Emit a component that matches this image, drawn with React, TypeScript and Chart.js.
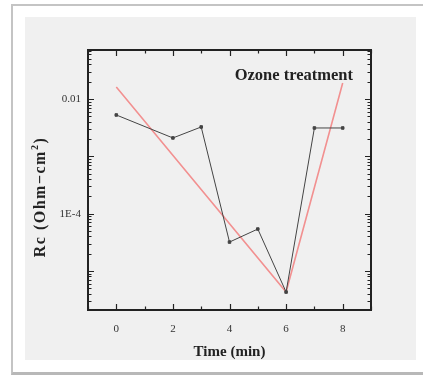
import React, { useEffect, useRef } from "react";
import { Chart, registerables } from "chart.js";
Chart.register(...registerables);

const timeMeasured = [0, 2, 3, 4, 5, 6, 7, 8];
const rcMeasured = [5.26e-3, 2.09e-3, 3.25e-3, 3.19e-5, 5.38e-5, 4.28e-6, 3.12e-3, 3.12e-3];
const timeFit = [0, 6, 8];
const rcFit = [1.62e-2, 4.28e-6, 1.9e-2];
const xTickValues = [0, 2, 4, 6, 8];
const xTickLabels = ["0", "2", "4", "6", "8"];
const yTickValues = [1e-2, 1e-4];
const yTickLabels = ["0.01", "1E-4"];
const xTitle = "Time (min)";
const yTitleMain = "Rc (Ohm\u2212cm";
const yTitleSup = "2";
const yTitleEnd = ")";
const annotation = "Ozone treatment";

const X_MIN = -1, X_MAX = 9, Y_MIN = 2.08e-6, Y_MAX = 7.16e-2;
const SERIF = "'Liberation Serif', 'DejaVu Serif', serif";

const decoPlugin = {
  id: "deco",
  afterDraw(chart: any) {
    const ctx = chart.ctx as CanvasRenderingContext2D;
    const { left, right, top, bottom } = chart.chartArea;
    const xs = chart.scales.x;
    const ys = chart.scales.y;
    ctx.save();
    ctx.strokeStyle = "#222";
    ctx.lineWidth = 1.2;
    for (let v = Math.ceil(X_MIN); v <= X_MAX; v++) {
      const px = Math.round(xs.getPixelForValue(v)) + 0.5;
      const major = v % 2 === 0;
      const len = major ? 6 : 3.5;
      ctx.beginPath();
      ctx.moveTo(px, bottom);
      ctx.lineTo(px, bottom - len);
      ctx.moveTo(px, top);
      ctx.lineTo(px, top + len);
      ctx.stroke();
    }
    for (let e = -7; e <= -1; e++) {
      for (let m = 1; m <= 9; m++) {
        const v = m * Math.pow(10, e);
        if (v < Y_MIN || v > Y_MAX) continue;
        const py = Math.round(ys.getPixelForValue(v)) + 0.5;
        const len = m === 1 ? 6 : 3.5;
        ctx.beginPath();
        ctx.moveTo(left, py);
        ctx.lineTo(left + len, py);
        ctx.moveTo(right, py);
        ctx.lineTo(right - len, py);
        ctx.stroke();
      }
    }
    ctx.lineWidth = 2;
    ctx.strokeRect(left, top, right - left, bottom - top);

    ctx.fillStyle = "#222";
    ctx.font = `bold 16.5px ${SERIF}`;
    ctx.textAlign = "right";
    ctx.textBaseline = "alphabetic";
    ctx.fillText(annotation, right - 18, top + 30);

    ctx.font = `bold 15px ${SERIF}`;
    ctx.textAlign = "center";
    ctx.textBaseline = "middle";
    ctx.fillText(xTitle, (left + right) / 2, bottom + 42);

    ctx.translate(16, 180);
    ctx.rotate(-Math.PI / 2);
    (ctx as any).letterSpacing = "1.5px";
    const mainFont = `bold 16px ${SERIF}`;
    const supFont = `bold 10px ${SERIF}`;
    ctx.font = mainFont;
    const w1 = ctx.measureText(yTitleMain).width;
    const w3 = ctx.measureText(yTitleEnd).width;
    ctx.font = supFont;
    const w2 = ctx.measureText(yTitleSup).width;
    const total = w1 + w2 + w3;
    let cx = -total / 2;
    ctx.textAlign = "left";
    ctx.textBaseline = "middle";
    ctx.font = mainFont;
    ctx.fillText(yTitleMain, cx, 0);
    cx += w1;
    ctx.font = supFont;
    ctx.fillText(yTitleSup, cx, -6);
    cx += w2;
    ctx.font = mainFont;
    ctx.fillText(yTitleEnd, cx, 0);
    ctx.restore();
  },
};

export default function App() {
  const ref = useRef<HTMLCanvasElement>(null);
  useEffect(() => {
    if (!ref.current) return;
    const chart = new Chart(ref.current, {
      type: "line",
      data: {
        datasets: [
          {
            label: "measured",
            data: timeMeasured.map((t, i) => ({ x: t, y: rcMeasured[i] })),
            borderColor: "#444",
            backgroundColor: "#444",
            borderWidth: 1,
            pointRadius: 1.8,
            pointStyle: "rect",
            tension: 0,
          },
          {
            label: "fit",
            data: timeFit.map((t, i) => ({ x: t, y: rcFit[i] })),
            borderColor: "#f29090",
            backgroundColor: "#f29090",
            borderWidth: 1.6,
            pointRadius: 0,
            tension: 0,
          },
        ],
      },
      options: {
        animation: false,
        responsive: false,
        events: [],
        layout: { padding: { top: 33, right: 45, left: 0, bottom: 0 } },
        plugins: { legend: { display: false }, tooltip: { enabled: false } },
        scales: {
          x: {
            type: "linear",
            min: X_MIN,
            max: X_MAX,
            grid: { display: false, drawTicks: false },
            border: { display: false },
            afterFit: (s: any) => { s.height = 50; },
            ticks: {
              stepSize: 1,
              autoSkip: false,
              maxRotation: 0,
              padding: 13,
              color: "#333",
              font: { family: SERIF, size: 11 },
              callback: (v: any) => {
                const i = xTickValues.indexOf(Number(v));
                return i >= 0 ? xTickLabels[i] : "";
              },
            },
          },
          y: {
            type: "logarithmic",
            min: Y_MIN,
            max: Y_MAX,
            grid: { display: false, drawTicks: false },
            border: { display: false },
            afterFit: (s: any) => { s.width = 63; },
            ticks: {
              autoSkip: false,
              padding: 7,
              color: "#333",
              font: { family: SERIF, size: 11 },
              callback: (v: any) => {
                const lv = Math.log10(Number(v));
                for (let i = 0; i < yTickValues.length; i++) {
                  if (Math.abs(lv - Math.log10(yTickValues[i])) < 1e-6) return yTickLabels[i];
                }
                return "";
              },
            },
          },
        },
      },
      plugins: [decoPlugin],
    } as any);
    return () => chart.destroy();
  }, []);

  return (
    <div style={{ position: "fixed", left: 0, top: 0, width: 423, height: 378, background: "#fff", overflow: "hidden" }}>
      <div
        style={{
          position: "absolute",
          left: 11,
          top: 4,
          width: 440,
          height: 366,
          borderLeft: "2px solid #c4c4c4",
          borderTop: "2px solid #c4c4c4",
          borderBottom: "3px solid #b8b8b8",
          background: "#fff",
        }}
      />
      <canvas
        ref={ref}
        width={391}
        height={343}
        style={{ position: "absolute", left: 25, top: 17, width: 391, height: 343, background: "#f0f0f0" }}
      />
    </div>
  );
}
